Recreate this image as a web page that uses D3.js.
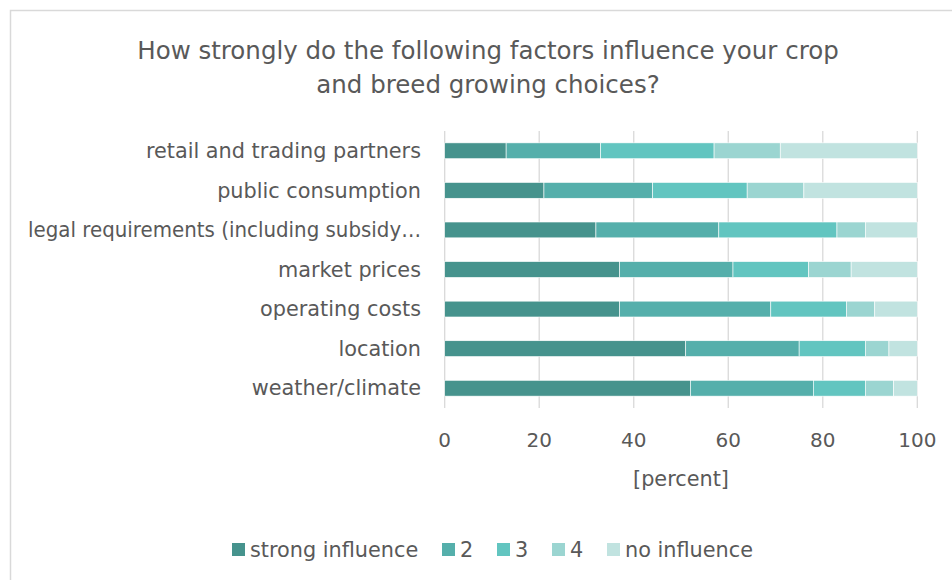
<!DOCTYPE html>
<html lang="en">
  <head>
    <meta charset="UTF-8" />
    <title>Crop and breed growing choices</title>
    <style>
      body {
        margin: 0;
        padding: 0;
        background: #fff;
        font-family: "DejaVu Sans", sans-serif;
      }
      svg text {
        fill: #595959;
      }
    </style>
  </head>
  <body>
    <svg id="chart"></svg>

    <script src="https://d3js.org/d3.v7.min.js"></script>
    <script>
      const width = 952;
      const height = 580;

      // categories, top to bottom
      const categories = [
        "retail and trading partners",
        "public consumption",
        "legal requirements (including subsidy…",
        "market prices",
        "operating costs",
        "location",
        "weather/climate"
      ];

      const seriesNames = ["strong influence", "2", "3", "4", "no influence"];

      // percent per category, one array per series
      const strongInfluence = [13, 21, 32, 37, 37, 51, 52];
      const level2 = [20, 23, 26, 24, 32, 24, 26];
      const level3 = [24, 20, 25, 16, 16, 14, 11];
      const level4 = [14, 12, 6, 9, 6, 5, 6];
      const noInfluence = [29, 24, 11, 14, 9, 6, 5];

      const xTicks = [0, 20, 40, 60, 80, 100];

      const colors = ["#46938d", "#55afab", "#62c5c0", "#9bd5d1", "#c1e3e0"];

      const rows = categories.map((c, i) => ({
        category: c,
        "strong influence": strongInfluence[i],
        "2": level2[i],
        "3": level3[i],
        "4": level4[i],
        "no influence": noInfluence[i]
      }));

      const svg = d3.select("#chart").attr("width", width).attr("height", height);

      // outer chart border (cut off at right and bottom)
      svg
        .append("rect")
        .attr("x", 10.5)
        .attr("y", 10.5)
        .attr("width", 960)
        .attr("height", 600)
        .attr("fill", "none")
        .attr("stroke", "#d9d9d9")
        .attr("stroke-width", 1.5);

      // title
      const title = svg
        .append("text")
        .attr("text-anchor", "middle")
        .attr("font-size", 24.5);
      title.append("tspan").attr("x", 488).attr("y", 59).text("How strongly do the following factors influence your crop");
      title.append("tspan").attr("x", 488).attr("y", 93).text("and breed growing choices?");

      const x = d3.scaleLinear().domain([0, 100]).range([444.7, 917.3]);

      const y = d3
        .scaleBand()
        .domain(categories)
        .range([131, 408])
        .paddingInner(0.6)
        .paddingOuter(0.3);

      // gridlines
      svg
        .append("g")
        .selectAll("line")
        .data(xTicks)
        .join("line")
        .attr("x1", (d) => x(d))
        .attr("x2", (d) => x(d))
        .attr("y1", 131)
        .attr("y2", 408)
        .attr("stroke", "#d9d9d9")
        .attr("stroke-width", 1.3);

      const stacked = d3.stack().keys(seriesNames)(rows);

      svg
        .append("g")
        .selectAll("g")
        .data(stacked)
        .join("g")
        .attr("fill", (d, i) => colors[i])
        .selectAll("rect")
        .data((d) => d)
        .join("rect")
        .attr("x", (d) => x(d[0]))
        .attr("width", (d) => x(d[1]) - x(d[0]))
        .attr("y", (d) => y(d.data.category))
        .attr("height", y.bandwidth())
        .attr("stroke", "#ffffff")
        .attr("stroke-width", 0.6);

      // category labels (long ones squeezed to fit like the truncated label)
      const maxLabel = 393;
      svg
        .append("g")
        .selectAll("text")
        .data(categories)
        .join("text")
        .attr("x", 421)
        .attr("y", (d) => y(d) + y.bandwidth() / 2)
        .attr("dy", "0.35em")
        .attr("text-anchor", "end")
        .attr("font-size", 20.8)
        .text((d) => d)
        .each(function () {
          if (this.getComputedTextLength() > maxLabel) {
            d3.select(this)
              .attr("textLength", maxLabel)
              .attr("lengthAdjust", "spacingAndGlyphs");
          }
        });

      // x tick labels
      svg
        .append("g")
        .selectAll("text")
        .data(xTicks)
        .join("text")
        .attr("x", (d) => x(d))
        .attr("y", 447)
        .attr("text-anchor", "middle")
        .attr("font-size", 20)
        .text((d) => d);

      svg
        .append("text")
        .attr("x", 681)
        .attr("y", 486)
        .attr("text-anchor", "middle")
        .attr("font-size", 20.8)
        .text("[percent]");

      // legend
      const legendX = [232, 442, 497, 552, 607];
      const legend = svg
        .append("g")
        .selectAll("g")
        .data(seriesNames)
        .join("g")
        .attr("transform", (d, i) => `translate(${legendX[i]},543)`);

      legend
        .append("rect")
        .attr("width", 13)
        .attr("height", 13)
        .attr("fill", (d, i) => colors[i]);

      legend
        .append("text")
        .attr("x", 18)
        .attr("y", 6.5)
        .attr("dy", "0.35em")
        .attr("font-size", 20.8)
        .text((d) => d);
    </script>
  </body>
</html>
